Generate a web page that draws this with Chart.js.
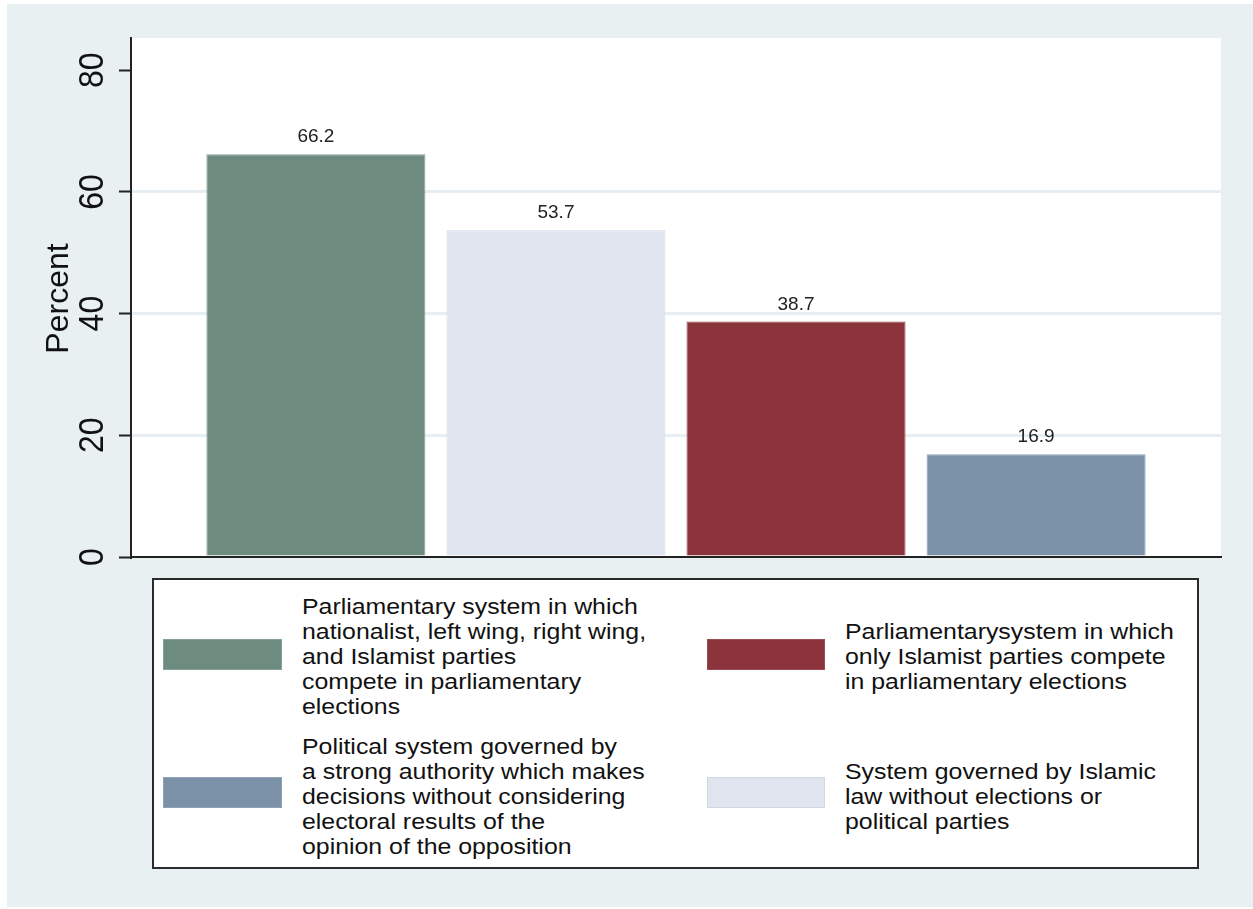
<!DOCTYPE html>
<html>
<head>
<meta charset="utf-8">
<script src="https://cdn.jsdelivr.net/npm/chart.js@4/dist/chart.umd.min.js"></script>
<style>
  html, body { margin: 0; padding: 0; background: #fff; }
  #wrap { position: relative; width: 1253px; height: 909px; }
  #legend {
    position: absolute; left: 152px; top: 578px; width: 1047px; height: 291px;
    box-sizing: border-box; border: 2px solid #2b2b2b; background: #fff;
    font-family: "Liberation Sans", Arial, sans-serif; font-size: 22px; line-height: 25px; color: #111;
  }
  .item { position: absolute; display: flex; align-items: center; height: 140px; }
  .swatch { width: 119px; height: 31px; margin-right: 20px; box-sizing: border-box; border: 1px solid; flex: none; }
  .txt { transform: scaleX(1.13); transform-origin: left center; white-space: nowrap; }
</style>
</head>
<body>
<div id="wrap">
  <canvas id="chart" width="1253" height="909"></canvas>
  <div id="legend"></div>
</div>
<script>
const seriesLabels = [
  ["Parliamentary system in which", "nationalist, left wing, right wing,", "and Islamist parties", "compete in parliamentary", "elections"],
  ["System governed by Islamic", "law without elections or", "political parties"],
  ["Parliamentarysystem in which", "only Islamist parties compete", "in parliamentary elections"],
  ["Political system governed by", "a strong authority which makes", "decisions without considering", "electoral results of the", "opinion of the opposition"]
];
const percentValues = [66.2, 53.7, 38.7, 16.9];
const yTicks = [0, 20, 40, 60, 80];
const yTitle = "Percent";

const barColors = ["#6d8b7f", "#e0e4ef", "#8b343c", "#7b91a8"];
const barEdges = ["#86a095", "#d2d7e4", "#9a4a51", "#8fa2b6"];

const FONT = '"Liberation Sans", Arial, sans-serif';

const bgPlugin = {
  id: "bg",
  beforeDraw(chart) {
    const c = chart.ctx;
    const a = chart.chartArea;
    c.save();
    c.fillStyle = "#ffffff";
    c.fillRect(0, 0, chart.width, chart.height);
    c.fillStyle = "#e8f0f2";
    c.fillRect(7, 4, chart.width - 7, chart.height - 6);
    c.fillStyle = "#ffffff";
    c.fillRect(a.left, a.top, a.right - a.left, a.bottom - a.top);
    c.restore();
  }
};

const labelPlugin = {
  id: "labels",
  afterDatasetsDraw(chart) {
    const c = chart.ctx;
    c.save();
    c.font = "19px " + FONT;
    c.fillStyle = "#222";
    c.textAlign = "center";
    c.textBaseline = "alphabetic";
    chart.data.datasets.forEach((ds, i) => {
      const bar = chart.getDatasetMeta(i).data[0];
      c.fillText(ds.data[0].toFixed(1), bar.x, bar.y - 12);
    });
    c.restore();
  },
  afterDraw(chart) {
    const c = chart.ctx;
    const ys = chart.scales.y;
    c.save();
    c.fillStyle = "#111";
    c.textAlign = "center";
    c.textBaseline = "alphabetic";
    c.font = "32px " + FONT;
    yTicks.forEach(v => {
      c.save();
      c.translate(103, ys.getPixelForValue(v));
      c.scale(1.1, 1);
      c.rotate(-Math.PI / 2);
      c.fillText(String(v), 0, 0);
      c.restore();
    });
    c.translate(68, (chart.chartArea.top + chart.chartArea.bottom) / 2 + 1);
    c.rotate(-Math.PI / 2);
    c.fillText(yTitle, 0, 0);
    c.restore();
  }
};

new Chart(document.getElementById("chart"), {
  type: "bar",
  data: {
    labels: [""],
    datasets: seriesLabels.map((lines, i) => ({
      label: lines.join(" "),
      data: [percentValues[i]],
      backgroundColor: barColors[i],
      borderColor: barEdges[i],
      borderWidth: 1,
      categoryPercentage: 0.881,
      barPercentage: 0.9125
    }))
  },
  options: {
    responsive: false,
    animation: false,
    layout: { padding: { left: 0, top: 38, right: 32, bottom: 352 } },
    plugins: { legend: { display: false }, tooltip: { enabled: false } },
    scales: {
      x: {
        grid: { display: false },
        ticks: { display: false },
        border: { display: true, color: "#222", width: 2 },
        afterFit: s => { s.height = 0; }
      },
      y: {
        min: 0,
        max: 85.3,
        afterBuildTicks: s => { s.ticks = yTicks.map(v => ({ value: v })); },
        afterFit: s => { s.width = 131; },
        ticks: { display: false },
        grid: {
          color: c => (c.tick && c.tick.value > 0 && c.tick.value < 80) ? "#e6eef1" : "rgba(0,0,0,0)",
          lineWidth: 3,
          drawTicks: true,
          tickLength: 12,
          tickColor: "#222",
          tickWidth: 2
        },
        border: { display: true, color: "#222", width: 2 }
      }
    }
  },
  plugins: [bgPlugin, labelPlugin]
});

// legend laid out as in the original: two columns, two rows
const legend = document.getElementById("legend");
const legendOrder = [0, 2, 3, 1];
const cellLeft = [9, 553];
const cellTop = [6, 146];
const swatchShift = [-2, -3.5];
legendOrder.forEach((idx, k) => {
  const col = k % 2, row = Math.floor(k / 2);
  const item = document.createElement("div");
  item.className = "item";
  item.style.left = cellLeft[col] + "px";
  item.style.top = cellTop[row] + "px";
  const sw = document.createElement("div");
  sw.className = "swatch";
  sw.style.background = barColors[idx];
  sw.style.borderColor = barEdges[idx];
  sw.style.position = "relative";
  sw.style.top = swatchShift[row] + "px";
  if (col === 1) sw.style.width = "118px";
  const txt = document.createElement("div");
  txt.className = "txt";
  txt.innerHTML = seriesLabels[idx].join("<br>");
  item.appendChild(sw);
  item.appendChild(txt);
  legend.appendChild(item);
});
</script>
</body>
</html>
